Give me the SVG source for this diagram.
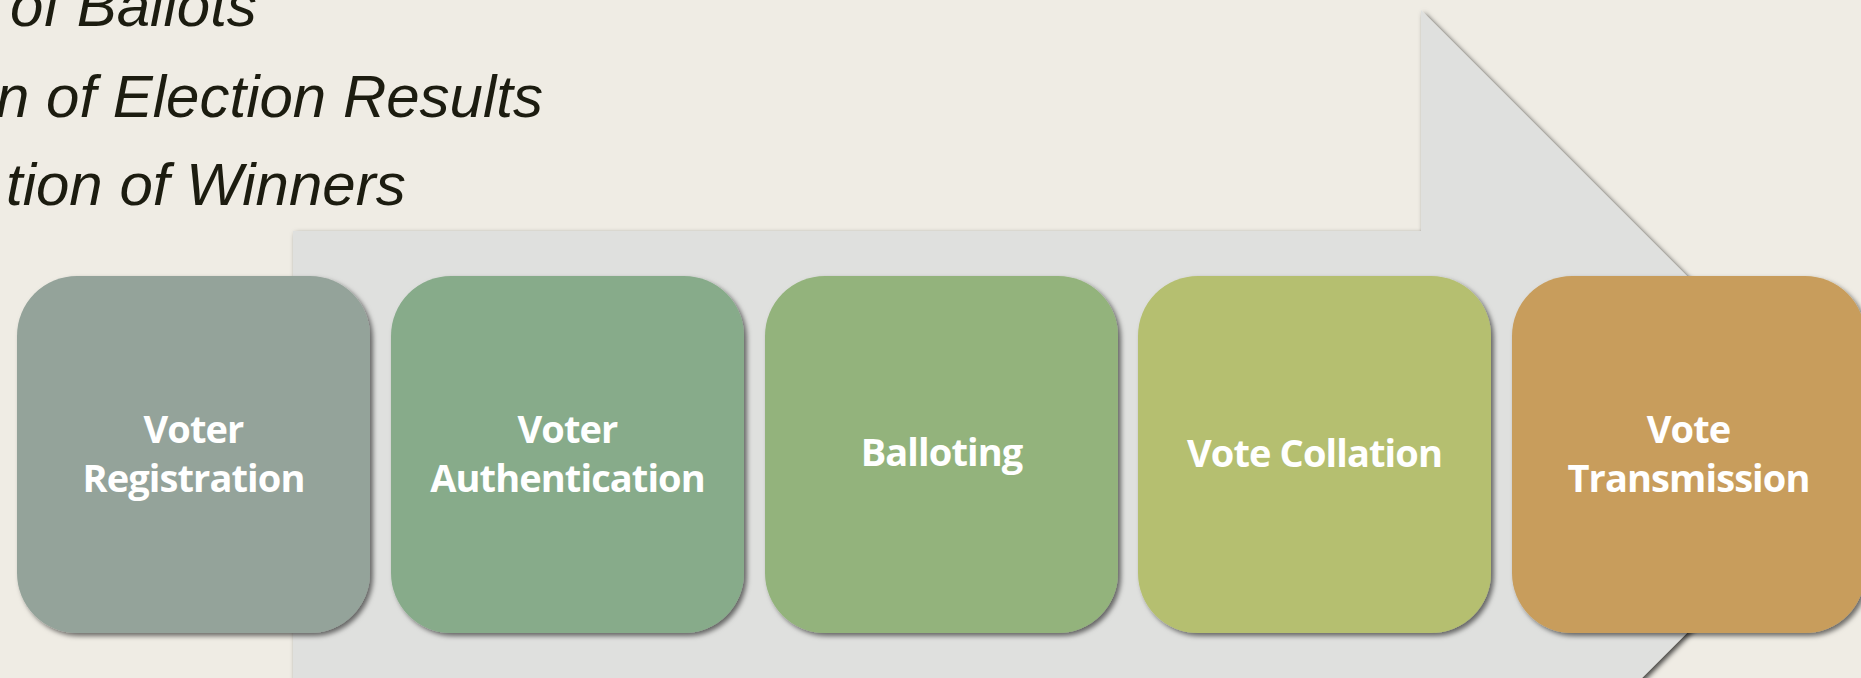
<svg xmlns="http://www.w3.org/2000/svg" width="1861" height="678" viewBox="0 0 1861 678">
  <defs>
    <filter id="arrowShadow" x="-5%" y="-5%" width="110%" height="110%">
      <feDropShadow dx="2.5" dy="2.5" stdDeviation="2.5" flood-color="#000" flood-opacity="0.7"/>
    </filter>
    <filter id="boxShadow" x="-5%" y="-5%" width="112%" height="112%">
      <feDropShadow dx="3" dy="3" stdDeviation="2.5" flood-color="#000" flood-opacity="0.55"/>
    </filter>
    <style>
      .bg { fill: #EFECE4; }
      .list { font-family: "Liberation Sans", Arial, sans-serif; font-style: italic; font-size: 60px; fill: #1C1C10; }
      .box { filter: url(#boxShadow); }
      .lbl { font-family: "Open Sans", "Noto Sans", sans-serif; font-weight: 700; font-size: 38px; letter-spacing: -0.9px; fill: #FFFFFF; text-anchor: middle; }
    </style>
  </defs>

  <rect class="bg" x="0" y="0" width="1861" height="678"/>

  <g id="list-text">
    <text class="list" x="10" y="26">of Ballots</text>
    <text class="list" x="-4" y="117">n of Election Results</text>
    <text class="list" x="6" y="205">tion of Winners</text>
  </g>

  <g id="process-arrow">
    <polygon points="293,231 1421,231 1421,10 1865.5,454.5 1421,899 1421,720 293,720" fill="#DFE0DE" filter="url(#arrowShadow)"/>
  </g>

  <g id="connectors"/>

  <g id="node-voter-registration">
    <rect class="box" x="17" y="276" width="353" height="357" rx="60" ry="60" fill="#94A39A"/>
    <text class="lbl" x="193.5" y="443">Voter</text>
    <text class="lbl" x="193.5" y="492">Registration</text>
  </g>

  <g id="node-voter-authentication">
    <rect class="box" x="391" y="276" width="353" height="357" rx="60" ry="60" fill="#87AB8A"/>
    <text class="lbl" x="567.5" y="443">Voter</text>
    <text class="lbl" x="567.5" y="492">Authentication</text>
  </g>

  <g id="node-balloting">
    <rect class="box" x="765" y="276" width="353" height="357" rx="60" ry="60" fill="#93B37B"/>
    <text class="lbl" x="941.5" y="466">Balloting</text>
  </g>

  <g id="node-vote-collation">
    <rect class="box" x="1138" y="276" width="353" height="357" rx="60" ry="60" fill="#B5BF6F"/>
    <text class="lbl" x="1314.5" y="467">Vote Collation</text>
  </g>

  <g id="node-vote-transmission">
    <rect class="box" x="1512" y="276" width="353" height="357" rx="60" ry="60" fill="#C89D5B"/>
    <text class="lbl" x="1688.5" y="443">Vote</text>
    <text class="lbl" x="1688.5" y="492">Transmission</text>
  </g>
</svg>
